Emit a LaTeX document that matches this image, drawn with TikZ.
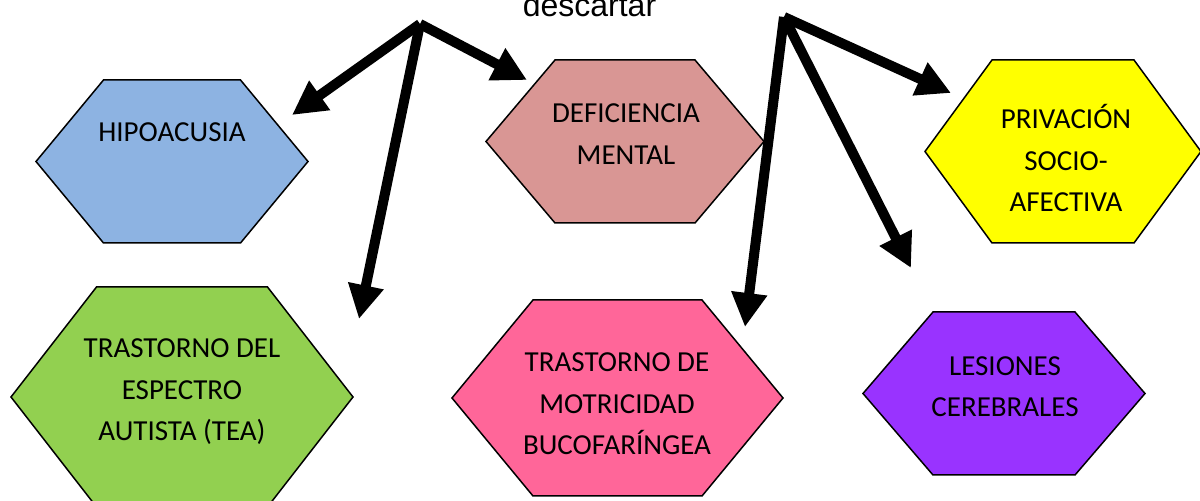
\documentclass[tikz,border=0pt]{standalone}
\usepackage{fontspec}
\setmainfont{Carlito}
\newfontfamily\arialfont{Liberation Sans}
\usetikzlibrary{arrows.meta}

\definecolor{hipoacusia}{HTML}{8DB3E2}
\definecolor{deficiencia}{HTML}{D99694}
\definecolor{privacion}{HTML}{FFFF00}
\definecolor{autismo}{HTML}{92D050}
\definecolor{motricidad}{HTML}{FF6699}
\definecolor{lesiones}{HTML}{9933FF}

\begin{document}
\begin{tikzpicture}[x=0.5pt,y=-0.5pt,
  hexa/.style={draw=black,line width=0.75pt},
  texto/.style={align=center,inner sep=0pt,font=\fontsize{14.5}{20.75}\selectfont},
  flecha/.style={line width=5pt,-{Triangle[length=17pt,width=17pt]}}]
\useasboundingbox (0,0) rectangle (1200,501);
% hexagons: centre x / centre y / half width / half top edge / half height / colour
\foreach \cx/\cy/\hw/\th/\hh/\col in {172/161.5/136/68.5/81.5/hipoacusia,
    625/141.5/139/70/81.5/deficiencia, 1063/151.5/138/71/91.5/privacion,
    182/397/171/85.5/110/autismo, 617.5/398/165.5/84.5/98/motricidad,
    1004/393.5/141/71/81.5/lesiones}
\draw[hexa,fill=\col] ({\cx-\hw},\cy) -- ({\cx-\th},{\cy-\hh}) -- ({\cx+\th},{\cy-\hh})
  -- ({\cx+\hw},\cy) -- ({\cx+\th},{\cy+\hh}) -- ({\cx-\th},{\cy+\hh}) -- cycle;

\node [texto] (hipo) at (172,132) {HIPOACUSIA};
\node [texto] (defi) at (626,134) {DEFICIENCIA\\MENTAL};
\node [texto] (priv) at (1066,158) {PRIVACIÓN\\SOCIO-\\AFECTIVA};
\node [texto] (tea) at (182,392) {TRASTORNO DEL\\ESPECTRO\\AUTISTA (TEA)};
\node [texto] (motr) at (617,404) {TRASTORNO DE\\MOTRICIDAD\\BUCOFARÍNGEA};
\node [texto] (lesi) at (1005,386.5) {LESIONES\\CEREBRALES};
\node [anchor=base,inner sep=0pt,font=\arialfont\fontsize{16}{19}\selectfont] (desc) at (589.5,17) {descartar};

\coordinate (hubL) at (420,24);
\coordinate (hubR) at (784,17);
\coordinate (toHipo) at (292,115);
\coordinate (toDefi) at (527,80);
\coordinate (toTea) at (359,319);
\coordinate (toPriv) at (951,93);
\coordinate (toLesi) at (911,268);
\coordinate (toMotr) at (745,327);

\draw[flecha] (hubL) -- (toHipo);
\draw[flecha] (hubL) -- (toDefi);
\draw[flecha] (hubL) -- (toTea);
\draw[flecha] (hubR) -- (toPriv);
\draw[flecha] (hubR) -- (toLesi);
\draw[flecha] (hubR) -- (toMotr);
\end{tikzpicture}
\end{document}
